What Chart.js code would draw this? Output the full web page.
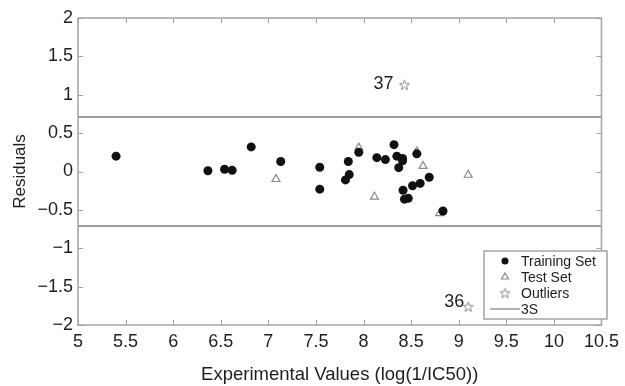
<!DOCTYPE html>
<html>
<head>
<meta charset="utf-8">
<script src="https://cdn.jsdelivr.net/npm/chart.js@4.4.0/dist/chart.umd.min.js"></script>
<style>
	html, body { margin: 0; padding: 0; background: #fff; }
	#wrap { width: 625px; height: 386px; }
</style>
</head>
<body>
<div id="wrap"><canvas id="myChart" width="625" height="386"></canvas></div>
<script>

// values
var trainX = [5.40, 6.365, 6.54, 6.62, 6.82, 7.13, 7.54, 7.54, 7.84, 7.85, 7.81, 7.95, 8.14, 8.23,
              8.32, 8.35, 8.41, 8.41, 8.37, 8.56, 8.69, 8.595, 8.515, 8.415, 8.43, 8.47, 8.835];
var trainY = [0.20, 0.01, 0.03, 0.015, 0.32, 0.13, 0.055, -0.23, 0.13, -0.04, -0.11, 0.25, 0.18, 0.155,
              0.35, 0.20, 0.17, 0.14, 0.05, 0.23, -0.075, -0.155, -0.185, -0.245, -0.36, -0.35, -0.515];

var testX = [7.08, 7.95, 8.115, 8.56, 8.625, 8.80, 9.10];
var testY = [-0.10, 0.31, -0.33, 0.26, 0.07, -0.545, -0.045];

var outlierX = [8.43, 9.10];
var outlierY = [1.13, -1.76];
var outlierIds = ['37', '36'];

var threeS = 0.71; // +/- 3S limit

var xTicks = [5, 5.5, 6, 6.5, 7, 7.5, 8, 8.5, 9, 9.5, 10, 10.5];
var yTicks = [-2, -1.5, -1, -0.5, 0, 0.5, 1, 1.5, 2];

var legendLabels = ['Training Set', 'Test Set', 'Outliers', '3S'];


var FONT = "'Liberation Sans', Arial, Helvetica, sans-serif";
var TEXT = '#1e1e1e';
var FRAME = '#a3a3a3';


function toPoints(xs, ys) {
	var pts = [];
	for (var i = 0; i < xs.length; i++) {
		pts.push({ x: xs[i], y: ys[i] });
	}
	return pts;
}

// matlab style pentagram as a little canvas
function makeStar(color) {
	var c = document.createElement('canvas');
	c.width = 13;
	c.height = 13;
	var g = c.getContext('2d');
	g.strokeStyle = color;
	g.fillStyle = '#fff';
	g.lineWidth = 1;
	g.beginPath();
	for (var i = 0; i < 10; i++) {
		var r = (i % 2) ? 2.2 : 5.3;
		var a = -Math.PI / 2 + i * Math.PI / 5;
		g.lineTo(6.5 + r * Math.cos(a), 7 + r * Math.sin(a));
	}
	g.closePath();
	g.fill();
	g.stroke();
	return c;
}
var star = makeStar('#8a8a8a');

function fmt(v) {
	var s = String(v);
	return v < 0 ? '\u2212' + s.substring(1) : s;
}


// frame, inward ticks, outlier ids and the boxed legend
var extras = {
	id: 'extras',
	afterDatasetsDraw: function (chart) {
		var ctx = chart.ctx;
		var a = chart.chartArea;
		var xs = chart.scales.x, ys = chart.scales.y;

		ctx.save();
		ctx.strokeStyle = FRAME;
		ctx.lineWidth = 1.5;
		ctx.strokeRect(a.left, a.top, a.right - a.left, a.bottom - a.top);

		ctx.lineWidth = 1;
		ctx.beginPath();
		xTicks.forEach(function (v) {
			var px = Math.round(xs.getPixelForValue(v)) + 0.5;
			ctx.moveTo(px, a.bottom); ctx.lineTo(px, a.bottom - 5);
			ctx.moveTo(px, a.top); ctx.lineTo(px, a.top + 5);
		});
		yTicks.forEach(function (v) {
			var py = Math.round(ys.getPixelForValue(v)) + 0.5;
			ctx.moveTo(a.left, py); ctx.lineTo(a.left + 5, py);
			ctx.moveTo(a.right, py); ctx.lineTo(a.right - 5, py);
		});
		ctx.stroke();

		// outlier numbers
		ctx.fillStyle = TEXT;
		ctx.font = '18px ' + FONT;
		ctx.textAlign = 'right';
		ctx.textBaseline = 'alphabetic';
		var offs = [[-11, 4], [-4, 0]];
		for (var i = 0; i < outlierIds.length; i++) {
			var sx = xs.getPixelForValue(outlierX[i]);
			var sy = ys.getPixelForValue(outlierY[i]);
			ctx.fillText(outlierIds[i], sx + offs[i][0], sy + offs[i][1]);
		}

		// legend box
		var bx = 484, by = 251, bw = 123, bh = 68;
		ctx.fillStyle = '#fff';
		ctx.fillRect(bx, by, bw, bh);
		ctx.strokeStyle = FRAME;
		ctx.lineWidth = 1.5;
		ctx.strokeRect(bx, by, bw, bh);

		ctx.font = '14px ' + FONT;
		ctx.textAlign = 'left';
		ctx.textBaseline = 'middle';
		var order = [0, 1, 2, 3];
		order.forEach(function (di, row) {
			var ds = chart.data.datasets[di];
			var cy = by + 10 + row * 16;
			var mx = bx + 21;
			ctx.save();
			if (di === 3) {
				ctx.strokeStyle = ds.borderColor;
				ctx.lineWidth = 1.5;
				ctx.beginPath();
				ctx.moveTo(bx + 6, cy);
				ctx.lineTo(bx + 36, cy);
				ctx.stroke();
			} else {
				ctx.fillStyle = ds.backgroundColor;
				ctx.strokeStyle = ds.borderColor;
				ctx.lineWidth = ds.borderWidth;
				Chart.helpers.drawPoint(ctx, {
					pointStyle: ds.pointStyle,
					radius: di === 0 ? 3.5 : 4,
					rotation: 0,
					borderWidth: ds.borderWidth
				}, mx, cy);
			}
			ctx.restore();
			ctx.fillStyle = TEXT;
			ctx.fillText(legendLabels[row], bx + 37, cy + 1);
		});
		ctx.restore();
	}
};


var $chart = document.getElementById('myChart');

var myChart = new Chart($chart, {
	type: 'scatter',
	data: {
		datasets: [{
			label: legendLabels[0],
			data: toPoints(trainX, trainY),
			pointStyle: 'circle',
			pointRadius: 4.5,
			backgroundColor: '#111',
			borderColor: '#111',
			borderWidth: 0,
			order: 0
		}, {
			label: legendLabels[1],
			data: toPoints(testX, testY),
			pointStyle: 'triangle',
			pointRadius: 4.6,
			backgroundColor: '#fff',
			borderColor: '#8a8a8a',
			borderWidth: 1.2,
			order: 1
		}, {
			label: legendLabels[2],
			data: toPoints(outlierX, outlierY),
			pointStyle: star,
			pointRadius: 6,
			backgroundColor: '#fff',
			borderColor: '#8a8a8a',
			borderWidth: 0,
			order: 2
		}, {
			label: legendLabels[3],
			data: [{ x: xTicks[0], y: threeS }, { x: xTicks[xTicks.length - 1], y: threeS }],
			showLine: true,
			pointRadius: 0,
			borderColor: '#9a9a9a',
			borderWidth: 2,
			order: 3
		}, {
			label: '3S low',
			data: [{ x: xTicks[0], y: -threeS }, { x: xTicks[xTicks.length - 1], y: -threeS }],
			showLine: true,
			pointRadius: 0,
			borderColor: '#9a9a9a',
			borderWidth: 2,
			order: 3
		}]
	},
	options: {
		responsive: false,
		animation: false,
		layout: { padding: { top: 18, right: 15, left: 0, bottom: 0 } },
		plugins: {
			legend: { display: false },
			tooltip: { enabled: false }
		},
		scales: {
			x: {
				type: 'linear',
				min: 5,
				max: 10.5,
				afterBuildTicks: function (s) { s.ticks = xTicks.map(function (v) { return { value: v }; }); },
				afterFit: function (s) { s.height = 61; },
				grid: { display: false, drawTicks: false },
				border: { display: false },
				ticks: {
					padding: 6,
					color: TEXT,
					font: { family: FONT, size: 18 },
					maxRotation: 0,
					autoSkip: false,
					callback: function (v) { return fmt(v); }
				},
				title: {
					display: true,
					text: 'Experimental Values (log(1/IC50))',
					color: TEXT,
					font: { family: FONT, size: 18.5 },
					padding: { top: 0, bottom: 0 }
				}
			},
			y: {
				type: 'linear',
				min: -2,
				max: 2,
				afterBuildTicks: function (s) { s.ticks = yTicks.map(function (v) { return { value: v }; }); },
				afterFit: function (s) { s.width = 78; },
				grid: { display: false, drawTicks: false },
				border: { display: false },
				ticks: {
					padding: 5,
					color: TEXT,
					font: { family: FONT, size: 18 },
					autoSkip: false,
					callback: function (v) { return fmt(v); }
				},
				title: {
					display: true,
					text: 'Residuals',
					color: TEXT,
					font: { family: FONT, size: 17 },
					padding: { top: 10, bottom: 0 }
				}
			}
		}
	},
	plugins: [extras]
});

</script>
</body>
</html>
